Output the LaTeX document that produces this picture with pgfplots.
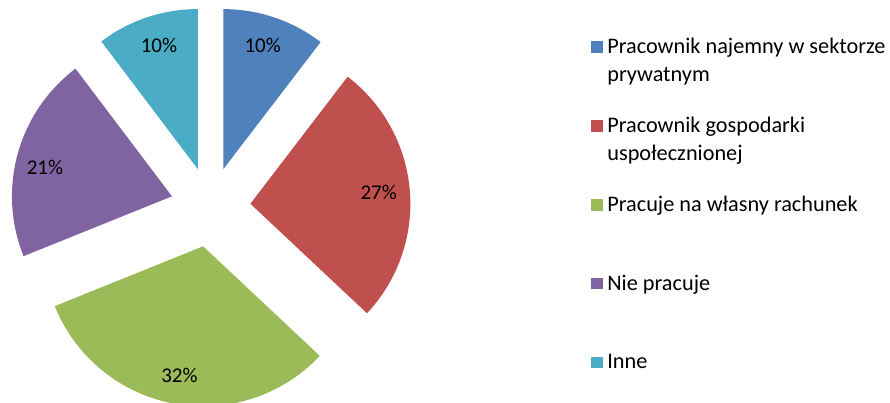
\documentclass[border=0pt]{standalone}
\usepackage{pgfplots}
\pgfplotsset{compat=1.18}
\usepackage{fontspec}
\setmainfont{Carlito}
\definecolor{cA}{HTML}{4F81BD}
\definecolor{cB}{HTML}{C0504D}
\definecolor{cC}{HTML}{9BBB59}
\definecolor{cD}{HTML}{8064A2}
\definecolor{cE}{HTML}{4BACC6}
% data (percent)
\def\vA{10.4}\def\vB{26.6}\def\vC{31.9}\def\vD{20.8}\def\vE{10.3}
% geometry (pixel units of axis)
\def\pcx{210.5}\def\pcy{196}\def\pexp{40}\def\prad{160}
\pgfmathsetmacro\aA{90}
\pgfmathsetmacro\aB{\aA-3.6*\vA}
\pgfmathsetmacro\aC{\aB-3.6*\vB}
\pgfmathsetmacro\aD{\aC-3.6*\vC}
\pgfmathsetmacro\aE{\aD-3.6*\vD}
\pgfmathsetmacro\aF{\aE-3.6*\vE}
\pgfmathsetmacro\oxA{\pcx+\pexp*cos((\aA+\aB)/2)}\pgfmathsetmacro\oyA{\pcy+\pexp*sin((\aA+\aB)/2)}
\pgfmathsetmacro\oxB{\pcx+\pexp*cos((\aB+\aC)/2)}\pgfmathsetmacro\oyB{\pcy+\pexp*sin((\aB+\aC)/2)}
\pgfmathsetmacro\oxC{\pcx+\pexp*cos((\aC+\aD)/2)}\pgfmathsetmacro\oyC{\pcy+\pexp*sin((\aC+\aD)/2)}
\pgfmathsetmacro\oxD{\pcx+\pexp*cos((\aD+\aE)/2)}\pgfmathsetmacro\oyD{\pcy+\pexp*sin((\aD+\aE)/2)}
\pgfmathsetmacro\oxE{\pcx+\pexp*cos((\aE+\aF)/2)}\pgfmathsetmacro\oyE{\pcy+\pexp*sin((\aE+\aF)/2)}
\begin{document}
\begin{tikzpicture}
\begin{axis}[scale only axis, width=667.5pt, height=302.25pt,
  xmin=0, xmax=890, ymin=0, ymax=403, hide axis,
  legend style={draw=none, fill=none, at={(0.6637,0.9064)}, anchor=north west,
    inner sep=0pt, outer sep=0pt, column sep=3.5pt, row sep=0pt,
    font=\fontsize{16.7}{20.7}\selectfont, cells={anchor=base west},
    nodes={inner sep=0pt, text height=12pt, text depth=47.1pt}},
  legend image code/.code={\fill[#1] (0pt,0.5pt) rectangle (9pt,9.3pt);}
]
\addplot[draw=none, fill=cA, domain=\aB:\aA, samples=60] ({\oxA+\prad*cos(x)},{\oyA+\prad*sin(x)}) -- (axis cs:\oxA,\oyA) -- cycle;
\addlegendentry{\parbox[t]{300pt}{\raggedright Pracownik najemny w sektorze\newline prywatnym}}
\addplot[draw=none, fill=cB, domain=\aC:\aB, samples=90] ({\oxB+\prad*cos(x)},{\oyB+\prad*sin(x)}) -- (axis cs:\oxB,\oyB) -- cycle;
\addlegendentry{\parbox[t]{300pt}{\raggedright Pracownik gospodarki\newline uspołecznionej}}
\addplot[draw=none, fill=cC, domain=\aD:\aC, samples=100] ({\oxC+\prad*cos(x)},{\oyC+\prad*sin(x)}) -- (axis cs:\oxC,\oyC) -- cycle;
\addlegendentry{Pracuje na własny rachunek}
\addplot[draw=none, fill=cD, domain=\aE:\aD, samples=80] ({\oxD+\prad*cos(x)},{\oyD+\prad*sin(x)}) -- (axis cs:\oxD,\oyD) -- cycle;
\addlegendentry{Nie pracuje}
\addplot[draw=none, fill=cE, domain=\aF:\aE, samples=60] ({\oxE+\prad*cos(x)},{\oyE+\prad*sin(x)}) -- (axis cs:\oxE,\oyE) -- cycle;
\addlegendentry{Inne}
\node[anchor=base, font=\fontsize{15.75}{19}\selectfont] at (axis cs:262.7,350.7) {10\%};
\node[anchor=base, font=\fontsize{15.75}{19}\selectfont] at (axis cs:378.7,203.7) {27\%};
\node[anchor=base, font=\fontsize{15.75}{19}\selectfont] at (axis cs:179.5,20.7) {32\%};
\node[anchor=base, font=\fontsize{15.75}{19}\selectfont] at (axis cs:45,228) {21\%};
\node[anchor=base, font=\fontsize{15.75}{19}\selectfont] at (axis cs:159,350.7) {10\%};
\end{axis}
\pgfresetboundingbox
\path[use as bounding box] (current axis.south west) rectangle (current axis.north east);
\end{tikzpicture}
\end{document}
